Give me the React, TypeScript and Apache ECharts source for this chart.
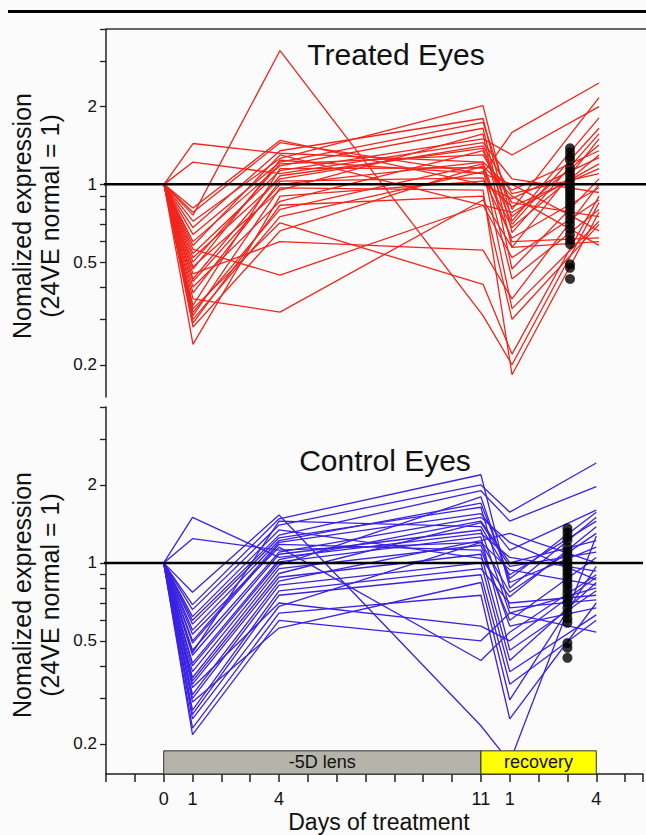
import React, { useEffect, useRef } from "react";
import * as echarts from "echarts";

// Days on the x axis (0..11 lens wear, 12 and 15 = recovery day 1 and 4)
const days = [0, 1, 4, 11, 12, 15];
const xTickLabels: Record<number, string> = { 0: "0", 1: "1", 4: "4", 11: "11", 12: "1", 15: "4" };
const yTickValues = [4, 3, 2, 1, 0.9, 0.8, 0.7, 0.6, 0.5, 0.4, 0.3, 0.2];
const yLabelValues = [2, 1, 0.5, 0.2];

// each row: values at day 1, 4, 11, recovery 1, recovery 4 (day 0 = 1)
const treated = [
  [1.44, 1.32, 1.22, 0.95, 1.35],
  [1.22, 1.10, 1.45, 1.05, 0.93],
  [0.76, 3.30, 0.31, 0.20, 0.85],
  [0.81, 1.48, 1.00, 0.88, 1.27],
  [0.78, 1.45, 1.10, 1.59, 2.47],
  [0.72, 1.26, 2.02, 0.72, 1.81],
  [0.68, 1.35, 1.80, 0.65, 1.57],
  [0.64, 1.22, 1.74, 0.80, 2.17],
  [0.60, 1.18, 1.65, 0.57, 1.50],
  [0.58, 1.30, 0.83, 0.78, 1.20],
  [0.56, 0.445, 0.83, 0.52, 0.87],
  [0.54, 1.13, 1.50, 1.30, 2.00],
  [0.52, 1.05, 1.41, 0.92, 1.10],
  [0.50, 1.20, 1.30, 0.85, 0.75],
  [0.48, 0.95, 1.57, 0.47, 1.05],
  [0.47, 1.24, 1.10, 1.00, 0.66],
  [0.45, 0.60, 0.556, 0.36, 1.00],
  [0.43, 1.08, 1.38, 0.75, 1.42],
  [0.42, 1.00, 1.22, 0.43, 0.80],
  [0.40, 0.86, 1.35, 0.70, 1.65],
  [0.38, 1.03, 1.06, 0.62, 0.97],
  [0.36, 0.32, 0.87, 0.57, 0.60],
  [0.34, 1.15, 1.16, 0.33, 0.72],
  [0.33, 0.71, 0.41, 0.22, 0.90],
  [0.32, 0.80, 1.20, 0.60, 0.62],
  [0.31, 0.97, 0.95, 0.183, 0.78],
  [0.30, 0.75, 1.12, 0.68, 1.30],
  [0.29, 0.83, 0.90, 0.30, 0.70],
  [0.28, 0.66, 1.18, 0.90, 0.58],
  [0.24, 0.90, 1.03, 0.82, 1.15],
];

const control = [
  [1.50, 1.05, 1.30, 1.05, 0.93],
  [1.24, 1.12, 1.20, 0.94, 0.82],
  [0.77, 1.53, 0.235, 0.17, 1.27],
  [0.69, 1.48, 2.19, 0.80, 1.50],
  [0.66, 1.40, 2.00, 1.57, 2.43],
  [0.62, 1.34, 1.04, 0.74, 1.38],
  [0.60, 1.28, 1.90, 1.45, 1.97],
  [0.58, 1.25, 1.64, 0.67, 0.72],
  [0.55, 1.22, 1.70, 0.87, 1.57],
  [0.53, 1.15, 0.42, 0.54, 0.90],
  [0.50, 1.20, 1.55, 1.12, 1.60],
  [0.49, 1.18, 1.12, 0.60, 1.05],
  [0.46, 1.10, 1.50, 1.20, 0.86],
  [0.45, 1.45, 1.38, 0.90, 1.45],
  [0.44, 1.08, 1.34, 0.64, 0.80],
  [0.41, 1.03, 1.45, 1.00, 1.22],
  [0.40, 1.01, 1.26, 0.46, 0.78],
  [0.38, 0.98, 1.80, 0.84, 1.15],
  [0.36, 0.95, 1.17, 0.57, 0.67],
  [0.35, 0.91, 1.43, 0.97, 1.10],
  [0.34, 0.88, 1.08, 0.42, 0.84],
  [0.33, 0.70, 0.57, 0.50, 0.88],
  [0.31, 0.85, 1.22, 1.30, 1.00],
  [0.30, 0.82, 1.00, 0.38, 0.63],
  [0.29, 0.56, 0.84, 0.296, 0.97],
  [0.27, 0.78, 0.95, 0.70, 0.75],
  [0.26, 0.75, 0.90, 0.34, 0.60],
  [0.25, 0.68, 1.20, 0.77, 1.30],
  [0.23, 0.64, 0.75, 0.25, 0.70],
  [0.217, 0.60, 0.50, 0.64, 0.54],
];

const dotDay = 14;
const treatedDots = [1.38, 1.33, 1.28, 1.24, 1.16, 1.12, 1.08, 1.04, 1.0, 0.97, 0.94, 0.91, 0.88, 0.85, 0.82, 0.79, 0.76, 0.73, 0.7, 0.67, 0.64, 0.61, 0.587, 0.49, 0.475, 0.43];
const controlDots = [1.36, 1.31, 1.26, 1.22, 1.15, 1.11, 1.07, 1.03, 1.0, 0.97, 0.94, 0.91, 0.88, 0.85, 0.82, 0.79, 0.76, 0.73, 0.7, 0.67, 0.64, 0.61, 0.587, 0.49, 0.47, 0.43];

const phaseNames = ["-5D lens", "recovery"];
const phaseFrom = [0, 11];
const phaseTo = [11, 15];
const phaseColors = ["#b4b4aa", "#ffff00"];
const phaseTop = 0.188;

const FONT = "'Liberation Sans', Arial, Helvetica, sans-serif";
const RED = "#f0261c";
const BLUE = "#3b22e2";

export default function App() {
  const ref = useRef<HTMLDivElement>(null);
  useEffect(() => {
    document.body.style.margin = "0";
    const chart = echarts.init(ref.current!, null, { renderer: "svg" });

    const yMins = [0.15, 0.153];
    const mkY = (gi: number) => ({
      gridIndex: gi,
      type: "log",
      logBase: 10,
      min: yMins[gi],
      max: 4,
      axisLine: { show: true, onZero: false, lineStyle: { color: "#222", width: 1.5 } },
      axisTick: { show: true, customValues: yTickValues, length: 6, lineStyle: { color: "#222", width: 1.3 } },
      axisLabel: {
        customValues: yLabelValues,
        formatter: (v: number) => String(+v.toPrecision(3)),
        fontSize: 17,
        color: "#111",
        fontFamily: FONT,
        margin: 9,
      },
      splitLine: { show: false },
      minorTick: { show: false },
    });

    const series: any[] = [];
    const addLines = (rows: number[][], gi: number, color: string) => {
      rows.forEach((r, i) => {
        const vals = [1, ...r];
        series.push({
          type: "line",
          name: (gi === 0 ? "T" : "C") + i,
          xAxisIndex: gi,
          yAxisIndex: gi,
          data: days.map((d, k) => [d, vals[k]]),
          symbol: "none",
          silent: true,
          lineStyle: { color, width: 1.3 },
          z: 2,
        });
      });
    };
    addLines(treated, 0, RED);
    addLines(control, 1, BLUE);

    [0, 1].forEach((gi) => {
      series.push({
        type: "line",
        xAxisIndex: gi,
        yAxisIndex: gi,
        data: [[-2.2, 1], [16.62, 1]],
        symbol: "none",
        clip: false,
        silent: true,
        lineStyle: { color: "#000", width: 2.5 },
        z: 5,
      });
      series.push({
        type: "scatter",
        xAxisIndex: gi,
        yAxisIndex: gi,
        data: (gi === 0 ? treatedDots : controlDots).map((v) => [dotDay, v]),
        symbolSize: 10,
        itemStyle: { color: "#000" },
        silent: true,
        z: 10,
      });
    });

    // treatment-phase bars at the bottom of the control panel
    series.push({
      type: "custom",
      xAxisIndex: 1,
      yAxisIndex: 1,
      silent: true,
      z: 20,
      clip: false,
      encode: { x: [0, 1], y: 2 },
      data: phaseNames.map((n, i) => [phaseFrom[i], phaseTo[i], phaseTop, i]),
      renderItem: (params: any, api: any) => {
        const i = api.value(3);
        const p0 = api.coord([api.value(0), api.value(2)]);
        const p1 = api.coord([api.value(1), yMins[1]]);
        return {
          type: "group",
          children: [
            {
              type: "rect",
              shape: { x: p0[0], y: p0[1], width: p1[0] - p0[0], height: p1[1] - p0[1] },
              style: { fill: phaseColors[i], stroke: "#333", lineWidth: 1 },
            },
            {
              type: "text",
              x: (p0[0] + p1[0]) / 2,
              y: (p0[1] + p1[1]) / 2,
              style: { text: phaseNames[i], fontSize: 18, fontFamily: FONT, fill: "#111", align: "center", verticalAlign: "middle" },
            },
          ],
        };
      },
    });

    chart.setOption({
      animation: false,
      backgroundColor: "#fbfbfb",
      textStyle: { fontFamily: FONT },
      grid: [
        { left: 106, top: 29, width: 540, height: 368, containLabel: false },
        { left: 106, top: 407, width: 540, height: 367, containLabel: false },
      ],
      xAxis: [
        { gridIndex: 0, type: "value", min: -2, max: 16.62, show: false },
        {
          gridIndex: 1,
          type: "value",
          min: -2,
          max: 16.62,
          interval: 1,
          axisLine: { onZero: false, lineStyle: { color: "#222", width: 1.5 } },
          axisTick: { length: 8, lineStyle: { color: "#222", width: 1.5 } },
          axisLabel: {
            formatter: (v: number) => xTickLabels[v] ?? "",
            fontSize: 18,
            color: "#111",
            fontFamily: FONT,
            margin: 16,
          },
          splitLine: { show: false },
        },
      ],
      yAxis: [mkY(0), mkY(1)],
      graphic: [
        { type: "line", shape: { x1: 8, y1: 11.5, x2: 646, y2: 11.5 }, style: { stroke: "#000", lineWidth: 3 } },
        { type: "line", shape: { x1: 106, y1: 29, x2: 646, y2: 29 }, style: { stroke: "#333", lineWidth: 1.5 } },
        { type: "text", x: 396, y: 54, style: { text: "Treated Eyes", fontSize: 30, fontFamily: FONT, fill: "#111", align: "center", verticalAlign: "middle" } },
        { type: "text", x: 385, y: 460, style: { text: "Control Eyes", fontSize: 30, fontFamily: FONT, fill: "#111", align: "center", verticalAlign: "middle" } },
        { type: "text", x: 36, y: 216, rotation: Math.PI / 2, style: { text: "Nomalized expression\n(24VE normal = 1)", fontSize: 25, lineHeight: 28, fontFamily: FONT, fill: "#111", align: "center", verticalAlign: "middle" } },
        { type: "text", x: 36, y: 595, rotation: Math.PI / 2, style: { text: "Nomalized expression\n(24VE normal = 1)", fontSize: 25, lineHeight: 28, fontFamily: FONT, fill: "#111", align: "center", verticalAlign: "middle" } },
        { type: "text", x: 379, y: 822, style: { text: "Days of treatment", fontSize: 23, fontFamily: FONT, fill: "#111", align: "center", verticalAlign: "middle" } },
      ],
      series,
    });
    return () => chart.dispose();
  }, []);
  return <div ref={ref} style={{ width: 646, height: 835 }} />;
}
